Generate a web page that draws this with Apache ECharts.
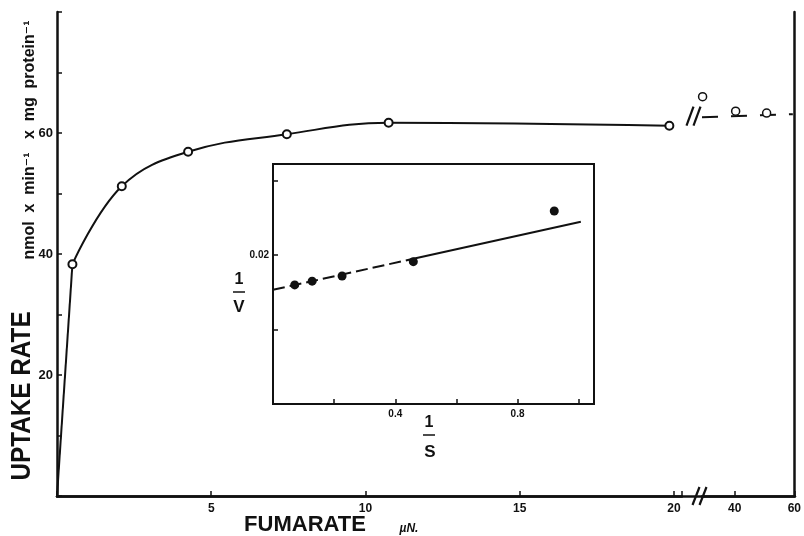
<!DOCTYPE html>
<html><head><meta charset="utf-8">
<script src="https://cdn.jsdelivr.net/npm/echarts@6/dist/echarts.min.js"></script>
<style>html,body{margin:0;padding:0;background:#fff}#c{width:804px;height:536px}</style>
</head><body><div id="c"></div>
<script>
// ---- data ----
const mainX = [0.5, 2.1, 4.25, 7.45, 10.75, 19.85];
const mainY = [38.3, 51.2, 56.9, 59.8, 61.7, 61.2];
const originX = 0;
const originY = 0;
const highX = [29.2, 40.3, 50.7];
const highY = [66.0, 63.6, 63.3];
const highFitX = [29, 59.5];
const highFitY = [62.6, 63.1];
const invS = [0.071, 0.128, 0.226, 0.459, 0.920];
const invV = [0.01799, 0.01824, 0.01859, 0.01955, 0.02295];
const fitX = [0, 0.459, 1.007];
const fitY = [0.01766, 0.01974, 0.02223];
const mainYLabels = [20, 40, 60];
const mainXLabels = [5, 10, 15, 20];
const highXTicks = [40, 60];
const insetXLabels = [0.4, 0.8];
const insetYLabels = [0.02];

const INK = '#111';
const FONT = "'Liberation Sans', 'DejaVu Sans', sans-serif";
const near = (arr, v) => arr.some(a => Math.abs(a - v) < 1e-9);
const axLine = {show: true, lineStyle: {color: INK, width: 2.5}};
const noSplit = {show: false};

const chart = echarts.init(document.getElementById('c'), null, {renderer: 'canvas'});

const option = {
  animation: false,
  backgroundColor: '#fff',
  grid: [
    {left: 57, top: 12, width: 625, height: 484},
    {left: 702, top: 12, width: 93, height: 484},
    {left: 273, top: 164, width: 321, height: 240, show: true, borderColor: INK, borderWidth: 2, backgroundColor: '#fff'},
    {left: 57, top: 12, width: 738, height: 484}
  ],
  xAxis: [
    {gridIndex: 0, type: 'value', min: 0, max: 20.26, interval: 5, axisLine: axLine,
     axisTick: {inside: true, length: 5, lineStyle: {color: INK, width: 1.5}},
     axisLabel: {formatter: v => near(mainXLabels, v) ? String(v) : '', color: INK, fontWeight: 'bold', fontSize: 12, fontFamily: FONT, margin: 7},
     splitLine: noSplit},
    {gridIndex: 1, type: 'value', min: 29, max: 60, axisLine: axLine,
     axisTick: {inside: true, length: 5, customValues: highXTicks, lineStyle: {color: INK, width: 1.5}},
     axisLabel: {customValues: highXTicks, color: INK, fontWeight: 'bold', fontSize: 12, fontFamily: FONT, margin: 7},
     splitLine: noSplit},
    {gridIndex: 3, type: 'value', position: 'top', min: 0, max: 1, axisLine: axLine,
     axisTick: {show: false}, axisLabel: {show: false}, splitLine: noSplit},
    {gridIndex: 2, type: 'value', min: 0, max: 1.05, interval: 0.2, axisLine: {show: false},
     axisTick: {inside: true, length: 5, lineStyle: {color: INK, width: 1.5}},
     axisLabel: {formatter: v => near(insetXLabels, v) ? String(v) : '', color: INK, fontWeight: 'bold', fontSize: 10, fontFamily: FONT, margin: 5},
     splitLine: noSplit}
  ],
  yAxis: [
    {gridIndex: 0, type: 'value', min: 0, max: 80, interval: 10, axisLine: axLine,
     axisTick: {inside: true, length: 5, lineStyle: {color: INK, width: 1.5}},
     axisLabel: {formatter: v => near(mainYLabels, v) ? String(v) : '', color: INK, fontWeight: 'bold', fontSize: 13, fontFamily: FONT, margin: 4},
     splitLine: noSplit},
    {gridIndex: 1, type: 'value', position: 'right', min: 0, max: 80, axisLine: axLine,
     axisTick: {show: false}, axisLabel: {show: false}, splitLine: noSplit},
    {gridIndex: 2, type: 'value', min: 0.01, max: 0.0261, interval: 0.005, axisLine: {show: false},
     axisTick: {inside: true, length: 5, lineStyle: {color: INK, width: 1.5}},
     axisLabel: {formatter: v => near(insetYLabels, v) ? '0.02' : '', color: INK, fontWeight: 'bold', fontSize: 10, fontFamily: FONT, margin: 4},
     splitLine: noSplit},
    {gridIndex: 3, type: 'value', min: 0, max: 1, show: false}
  ],
  series: [
    {type: 'line', xAxisIndex: 0, yAxisIndex: 0, data: [[originX, originY], [mainX[0], mainY[0]]],
     symbol: 'none', lineStyle: {color: INK, width: 2}, z: 2},
    {type: 'line', xAxisIndex: 0, yAxisIndex: 0, data: mainX.map((x, i) => [x, mainY[i]]), smooth: 0.4,
     symbol: 'emptyCircle', symbolSize: 8, showAllSymbol: true, lineStyle: {color: INK, width: 2},
     itemStyle: {color: INK, borderWidth: 1.5}, z: 3},
    {type: 'line', xAxisIndex: 1, yAxisIndex: 1, data: highFitX.map((x, i) => [x, highFitY[i]]),
     symbol: 'none', lineStyle: {color: INK, width: 2, type: [16, 13]}, z: 2},
    {type: 'scatter', xAxisIndex: 1, yAxisIndex: 1, data: highX.map((x, i) => [x, highY[i]]),
     symbol: 'circle', symbolSize: 8, itemStyle: {color: '#fff', borderColor: INK, borderWidth: 1.5, opacity: 1}, z: 4},
    {type: 'line', xAxisIndex: 3, yAxisIndex: 2, data: [[fitX[0], fitY[0]], [fitX[1], fitY[1]]],
     symbol: 'none', lineStyle: {color: INK, width: 2, type: [12, 5]}, z: 3},
    {type: 'line', xAxisIndex: 3, yAxisIndex: 2, data: [[fitX[1], fitY[1]], [fitX[2], fitY[2]]],
     symbol: 'none', lineStyle: {color: INK, width: 2}, z: 3},
    {type: 'scatter', xAxisIndex: 3, yAxisIndex: 2, data: invS.map((x, i) => [x, invV[i]]),
     symbol: 'circle', symbolSize: 9, itemStyle: {color: INK, opacity: 1}, z: 4}
  ]
};
chart.setOption(option);

// break marks anchored to the axes
const endPt = chart.convertToPixel({xAxisIndex: 0, yAxisIndex: 0}, [20.26, 0]);
const curvePt = chart.convertToPixel({xAxisIndex: 0, yAxisIndex: 0}, [20.26, 62.8]);
function slash(cx, cy, h) {
  return {type: 'line', shape: {x1: cx - 3.5, y1: cy + h / 2, x2: cx + 3.5, y2: cy - h / 2},
          style: {stroke: INK, lineWidth: 2.2}, z: 10};
}
const txt = (text, x, y, font, extra) => Object.assign({type: 'text', x: x, y: y, z: 10,
  style: {text: text, font: font, fill: INK, textAlign: 'center', textVerticalAlign: 'middle'}}, extra || {});

chart.setOption({graphic: [
  slash(endPt[0] + 14, endPt[1], 18), slash(endPt[0] + 21, endPt[1], 18),
  slash(curvePt[0] + 8, curvePt[1], 19), slash(curvePt[0] + 15, curvePt[1], 19),
  txt('UPTAKE RATE', 23, 396, 'bold 27px ' + FONT, {rotation: Math.PI / 2, scaleX: 0.9}),
  txt('nmol  x  min\u207B\u00B9   x  mg  protein\u207B\u00B9', 30, 140, 'bold 16px ' + FONT, {rotation: Math.PI / 2}),
  txt('FUMARATE', 305, 525, 'bold 22px ' + FONT),
  txt('\u00B5N.', 409, 529, 'italic bold 12px ' + FONT),
  txt('1', 429, 423, 'bold 16px ' + FONT),
  {type: 'line', shape: {x1: 423, y1: 435, x2: 435, y2: 435}, style: {stroke: INK, lineWidth: 1.5}, z: 10},
  txt('S', 430, 452, 'bold 17px ' + FONT),
  txt('1', 239, 280, 'bold 16px ' + FONT),
  {type: 'line', shape: {x1: 233, y1: 292, x2: 245, y2: 292}, style: {stroke: INK, lineWidth: 1.5}, z: 10},
  txt('V', 239, 307, 'bold 17px ' + FONT)
]});
</script>
</body></html>
